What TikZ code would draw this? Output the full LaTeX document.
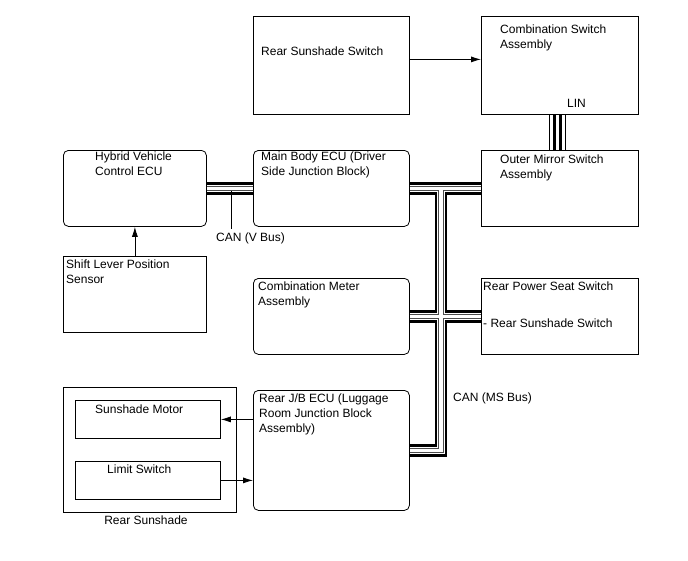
\documentclass[tikz,border=0pt]{standalone}
\usepackage{fontspec}
\setmainfont{Liberation Sans}
\usetikzlibrary{arrows.meta}

\tikzset{
    box/.style = {draw, line width=0.8pt, anchor=north west, inner sep=0pt},
    rbox/.style = {box, rounded corners=5pt},
    txt/.style = {anchor=north west, inner sep=0pt, align=left, font=\fontsize{12}{15}\selectfont},
    buslabel/.style = {anchor=west, inner sep=0pt, font=\fontsize{12}{15}\selectfont},
    canbus/.style = {line width=12.5pt,
        postaction={draw, white, line width=7.4pt},
        postaction={draw, black!70, line width=5.4pt},
        postaction={draw, white, line width=3.6pt}},
    linbus/.style = {line width=16.5pt,
        postaction={draw, white, line width=15pt},
        postaction={draw, black, line width=9.5pt},
        postaction={draw, white, line width=2.8pt}},
    signal/.style = {line width=0.8pt, -{Latex[length=10pt,width=6pt]}}
}

\begin{document}
\begin{tikzpicture}[x=1pt, y=-1pt]
    \useasboundingbox (0,0) rectangle (688,560);

    % boxes
    \node [box, minimum width=156pt, minimum height=98pt] (rss) at (253,16) {};
    \node [box, minimum width=157pt, minimum height=98pt] (cs) at (481,16) {};
    \node [rbox, minimum width=143pt, minimum height=76pt] (hv) at (63,150) {};
    \node [rbox, minimum width=156pt, minimum height=76pt] (mb) at (253,150) {};
    \node [box, minimum width=157pt, minimum height=76pt] (om) at (481,150) {};
    \node [box, minimum width=143pt, minimum height=76pt] (sl) at (63,256) {};
    \node [rbox, minimum width=156pt, minimum height=76pt] (cm) at (253,278) {};
    \node [box, minimum width=157pt, minimum height=76pt] (rp) at (481,278) {};
    \node [rbox, minimum width=156pt, minimum height=120pt] (jb) at (253,390) {};
    \node [box, minimum width=173pt, minimum height=125pt] (rs) at (63,387) {};
    \node [box, minimum width=145pt, minimum height=38pt] (sm) at (75,400) {};
    \node [box, minimum width=145pt, minimum height=38pt] (ls) at (75,461) {};

    % texts
    \node [txt] (rss-t) at (261,47) {Rear Sunshade Switch};
    \node [txt] (cs-t) at (500,25) {Combination Switch\\Assembly};
    \node [txt] (hv-t) at (95,152) {Hybrid Vehicle\\Control ECU};
    \node [txt] (mb-t) at (261,152) {Main Body ECU (Driver\\Side Junction Block)};
    \node [txt] (om-t) at (500,155) {Outer Mirror Switch\\Assembly};
    \node [txt] (sl-t) at (66,260) {Shift Lever Position\\Sensor};
    \node [txt] (cm-t) at (258,282) {Combination Meter\\Assembly};
    \node [txt] (rp-t) at (483,282) {Rear Power Seat Switch\\[22pt]- Rear Sunshade Switch};
    \node [txt] (jb-t) at (259,394) {Rear J/B ECU (Luggage\\Room Junction Block\\Assembly)};
    \node [txt] (sm-t) at (95,405) {Sunshade Motor};
    \node [txt] (ls-t) at (107,465) {Limit Switch};
    \node [txt, anchor=north] (rs-t) at (146,516) {Rear Sunshade};

    % buses
    \coordinate (tee) at (441,188);
    \draw [canbus] (hv.east) -- (mb.west) (mb.east) -- (om.west)
        (tee) |- (jb.east) (cm.east) -- (rp.west);
    \draw [linbus] ([xshift=-2.5pt]cs.south) -- ([xshift=-2.5pt]cs.south |- om.north);

    \coordinate (vtap) at (231,191);
    \node [buslabel] (vbus) at (216,238) {CAN (V Bus)};
    \node [buslabel] (msbus) at (453,398) {CAN (MS Bus)};
    \node [buslabel] (lin) at (567,103) {LIN};
    \draw [line width=0.8pt] (vtap) -- (vtap |- 0,229);

    % signals
    \draw [signal] ([yshift=6pt]rss.east) -- ([yshift=6pt]rss.east -| cs.west);
    \draw [signal] (sl.north) -- (hv.south);
    \draw [signal] (jb.west |- sm.east) -- (sm.east);
    \draw [signal] (ls.east) -- (ls.east -| jb.west);

\end{tikzpicture}
\end{document}
